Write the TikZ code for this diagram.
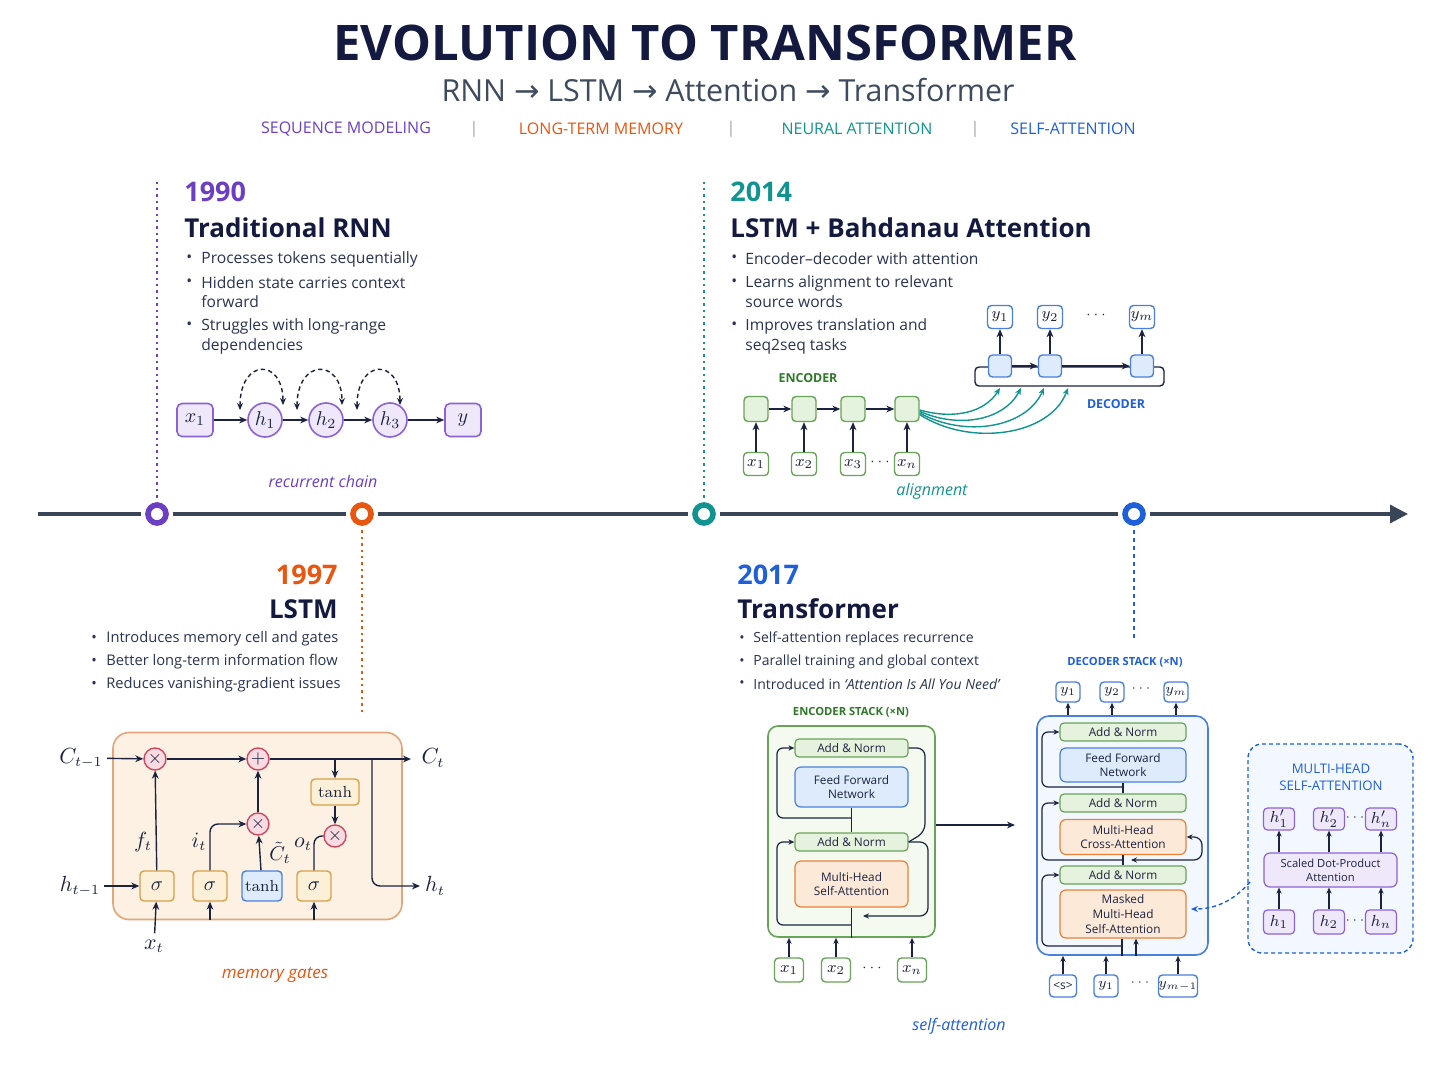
\documentclass[tikz,border=0pt]{standalone}
\usepackage[no-math]{fontspec}
\setmainfont{Open Sans}
\newfontfamily\djv{DejaVu Sans}
\usetikzlibrary{arrows.meta,calc}
\definecolor{cNavy}{HTML}{141A3F}
\definecolor{cTxt}{HTML}{2A3452}
\definecolor{cSub}{HTML}{3E4B5E}
\definecolor{cPur}{HTML}{6B3FC4}
\definecolor{cPurB}{HTML}{8C63D6}
\definecolor{cPurF}{HTML}{EFE8FB}
\definecolor{cOr}{HTML}{E8560F}
\definecolor{cTeal}{HTML}{11948F}
\definecolor{cBlu}{HTML}{1F5FD9}
\definecolor{cBluB}{HTML}{4A80DC}
\definecolor{cBluF}{HTML}{DDEBFC}
\definecolor{cGrn}{HTML}{2E7A28}
\definecolor{cGrnB}{HTML}{6AA35A}
\definecolor{cGrnF}{HTML}{E5F2DD}
\definecolor{cLine}{HTML}{1C2340}
\definecolor{cTl}{HTML}{3A4658}
\definecolor{cCellF}{HTML}{FDF1E4}
\definecolor{cCellB}{HTML}{E3A679}
\definecolor{cGateB}{HTML}{D9A04A}
\definecolor{cGateF}{HTML}{FDF0D8}
\definecolor{cMulB}{HTML}{D0485F}
\definecolor{cMulF}{HTML}{FADBE1}
\definecolor{cAttB}{HTML}{E8823A}
\definecolor{cAttF}{HTML}{FDE9D8}
\definecolor{cSep}{HTML}{9AA3AE}
\definecolor{cEncF}{HTML}{F4FAF0}
\definecolor{cDecF}{HTML}{F3F8FF}
\begin{document}
\begin{tikzpicture}[x=0.5pt,y=-0.5pt,
  every node/.style={inner sep=0pt},
  fsz/.style 2 args={font=\fontsize{#1}{#2}\selectfont},
  hd/.style={font=\fontsize{13}{16}\selectfont\bfseries, text=cNavy},
  yr/.style={font=\fontsize{13.5}{16}\selectfont\bfseries},
  bt/.style={font=\fontsize{#1}{9}\selectfont, text=cTxt, anchor=west},
  bt/.default=7.5,
  tagtxt/.style={font=\fontsize{8}{10}\selectfont},
  lbl/.style={font=\fontsize{8}{10}\selectfont\itshape},
  ml/.style={font=\fontsize{10.5}{12}\selectfont, text=cLine},
  arr/.style={draw=cLine, line width=0.7pt, -{Stealth[length=4pt,width=3.4pt]}},
  plainln/.style={draw=cLine, line width=0.7pt},
  sarr/.style={draw=cLine, line width=0.6pt, -{Stealth[length=3pt,width=2.6pt]}},
  sln/.style={draw=cLine, line width=0.6pt},
  dloop/.style={draw=cLine, line width=0.7pt, dash pattern=on 2.2pt off 1.6pt, {Stealth[length=3.5pt,width=3pt]}-{Stealth[length=3.5pt,width=3pt]}},
  vdot/.style={line width=0.9pt, dash pattern=on 1.2pt off 2pt},
  pbox/.style={draw=cPurB, fill=cPurF, line width=0.8pt, rounded corners=2.5pt, font=\fontsize{10}{11}\selectfont, text=cLine},
  pcirc/.style={circle, draw=cPurB, fill=cPurF, line width=0.8pt, minimum size=17pt, font=\fontsize{10}{11}\selectfont, text=cLine},
  gbox/.style={draw=cGrnB, fill=cGrnF, line width=0.7pt, rounded corners=2pt, font=\fontsize{8}{9}\selectfont, text=cLine},
  bbox/.style={draw=cBluB, fill=cBluF, line width=0.7pt, rounded corners=2pt, font=\fontsize{8}{9}\selectfont, text=cLine},
  wbox/.style={draw=cBluB, fill=white, line width=0.7pt, rounded corners=2pt, font=\fontsize{8}{9}\selectfont, text=cLine},
  wgbox/.style={draw=cGrnB, fill=white, line width=0.7pt, rounded corners=2pt, font=\fontsize{8}{9}\selectfont, text=cLine},
  mul/.style={circle, draw=cMulB, fill=cMulF, line width=0.7pt, minimum size=11pt, font=\fontsize{9}{10}\selectfont, text=cLine},
  gate/.style={draw=cGateB, fill=cGateF, line width=0.7pt, rounded corners=2pt, minimum width=17pt, minimum height=15pt, font=\fontsize{10}{11}\selectfont, text=cLine},
  tbox/.style={draw=cBluB, fill=cBluF, line width=0.7pt, rounded corners=2pt, minimum width=20pt, minimum height=15pt, font=\fontsize{8.5}{10}\selectfont, text=cLine},
  anbox/.style={draw=cGrnB, fill=cGrnF, line width=0.6pt, rounded corners=2pt, minimum width=56.5pt, minimum height=9pt, fsz={5.9}{7}, text=cLine},
  ffbox/.style={draw=cBluB, fill=cBluF, line width=0.6pt, rounded corners=3pt, minimum width=56.5pt, minimum height=20pt, align=center, fsz={5.9}{7.4}, text=cLine},
  attbox/.style={draw=cAttB, fill=cAttF, line width=0.6pt, rounded corners=3pt, minimum width=56.5pt, minimum height=23pt, align=center, fsz={5.9}{7.4}, text=cLine},
  phbox/.style={draw=cPurB, fill=cPurF, line width=0.6pt, rounded corners=2pt, minimum width=15.5pt, minimum height=11pt, font=\fontsize{8}{9}\selectfont, text=cLine},
]
\useasboundingbox[fill=white] (0,0) rectangle (1448,1086);

% ---------- header ----------
\node[font=\fontsize{24.5}{28}\selectfont\bfseries, text=cNavy] (title) at (705,43) {EVOLUTION TO TRANSFORMER};
\node[fsz={15.2}{18}, text=cSub] (subt) at (728,90) {RNN {\djv →} LSTM {\djv →} Attention {\djv →} Transformer};
\node[tagtxt, text=cPur] (tg1) at (346,129) {SEQUENCE MODELING};
\node[tagtxt, text=cSep] (sp1) at (474,129) {|};
\node[tagtxt, text=cOr] (tg2) at (601,129) {LONG-TERM MEMORY};
\node[tagtxt, text=cSep] (sp2) at (731,129) {|};
\node[tagtxt, text=cTeal] (tg3) at (857,129) {NEURAL ATTENTION};
\node[tagtxt, text=cSep] (sp3) at (975,129) {|};
\node[tagtxt, text=cBlu] (tg4) at (1073,129) {SELF-ATTENTION};

% ---------- timeline ----------
\coordinate (tlS) at (38,514);
\coordinate (tlE) at (1408,514);
\draw[cTl, line width=1.6pt, -{Triangle[length=9pt,width=9pt]}] (tlS) -- (tlE);
\foreach \n/\x/\c in {m90/157/cPur, m97/362/cOr, m14/704/cTeal, m17/1134/cBlu}{
  \node[circle, fill=white, minimum size=16pt] (\n h) at (\x,514) {};
  \node[circle, draw=\c, line width=2.8pt, fill=white, minimum size=9pt] (\n) at (\x,514) {};
}
\coordinate (d90) at (157,180);
\coordinate (d97) at (362,715);
\coordinate (d14) at (704,180);
\coordinate (d17) at (1134,640);
\draw[vdot, cPur] (m90h.north) -- (d90);
\draw[vdot, cOr] (m97h.south) -- (d97);
\draw[vdot, cTeal] (m14h.north) -- (d14);
\draw[vdot, cBlu, dash pattern=on 2pt off 2pt] (m17h.south) -- (d17);

% ---------- 1990 ----------
\node[yr, text=cPur, anchor=west] (y90) at (184,192) {1990};
\node[hd, anchor=west] (t90) at (184,228) {Traditional RNN};
\node[bt=7.8] (b90a) at (186,259) {•}; \node[bt=7.8] (b90at) at (201,259) {Processes tokens sequentially};
\node[bt=7.8] (b90b) at (186,283) {•}; \node[bt=7.8] (b90bt) at (201,283) {Hidden state carries context};
\node[bt=7.8] (b90bc) at (201,302) {forward};
\node[bt=7.8] (b90c) at (186,326) {•}; \node[bt=7.8] (b90ct) at (201,326) {Struggles with long-range};
\node[bt=7.8] (b90cc) at (201,346) {dependencies};

\node[pbox, minimum width=18pt, minimum height=16.5pt] (rx1) at (195,420) {$x_1$};
\node[pcirc] (rh1) at (265,420) {$h_1$};
\node[pcirc] (rh2) at (326,420) {$h_2$};
\node[pcirc] (rh3) at (390,420) {$h_3$};
\node[pbox, minimum width=18pt, minimum height=16.5pt] (ry) at (463,420) {$y$};
\draw[arr] (rx1) -- (rh1);
\draw[arr] (rh1) -- (rh2);
\draw[arr] (rh2) -- (rh3);
\draw[arr] (rh3) -- (ry);
\draw[dloop] ($(rh1)+(-25,-10)$) .. controls ($(rh1)+(-25,-62)$) and ($(rh1)+(18,-62)$) .. ($(rh1)+(18,-15)$);
\draw[dloop] ($(rh2)+(-29,-10)$) .. controls ($(rh2)+(-29,-62)$) and ($(rh2)+(16,-62)$) .. ($(rh2)+(16,-15)$);
\draw[dloop] ($(rh3)+(-33,-10)$) .. controls ($(rh3)+(-33,-62)$) and ($(rh3)+(10,-62)$) .. ($(rh3)+(10,-15)$);
\node[lbl, text=cPur] (l90) at (323,481) {recurrent chain};

% ---------- 2014 ----------
\node[yr, text=cTeal, anchor=west] (y14) at (730,192) {2014};
\node[hd, anchor=west] (t14) at (730,228) {LSTM + Bahdanau Attention};
\node[bt=7.8] (b14a) at (731,259) {•}; \node[bt=7.8] (b14at) at (745,259) {Encoder–decoder with attention};
\node[bt=7.8] (b14b) at (731,283) {•}; \node[bt=7.8] (b14bt) at (745,283) {Learns alignment to relevant};
\node[bt=7.8] (b14bc) at (745,302) {source words};
\node[bt=7.8] (b14c) at (731,326) {•}; \node[bt=7.8] (b14ct) at (745,326) {Improves translation and};
\node[bt=7.8] (b14cc) at (745,346) {seq2seq tasks};

\node[font=\fontsize{6.2}{8}\selectfont\bfseries, text=cGrn] (encl) at (808,378) {ENCODER};
\foreach \i/\x/\t in {1/756/x_1, 2/804/x_2, 3/853/x_3, 4/907/x_n}{
  \node[gbox, minimum width=12pt, minimum height=12.5pt] (e\i) at (\x,409) {};
  \node[wgbox, minimum width=12.5pt, minimum height=11.5pt] (ex\i) at (\x,464) {$\t$};
  \draw[arr] (ex\i) -- (e\i);
}
\node[fsz={7}{8}, text=cLine] (edots) at (880,462) {$\cdots$};
\draw[arr] (e1) -- (e2);
\draw[arr] (e2) -- (e3);
\draw[arr] (e3) -- (e4);

\coordinate (dbl) at (975,367);
\coordinate (dbr) at (1164,386);
\draw[plainln, rounded corners=2pt] (dbl) rectangle (dbr);
\foreach \i/\x/\t in {1/1000/y_1, 2/1050/y_2, 3/1142/y_m}{
  \node[bbox, minimum width=11.5pt, minimum height=11pt] (d\i) at (\x,366) {};
  \node[wbox, minimum width=12.5pt, minimum height=11.5pt] (dy\i) at (\x,317) {$\t$};
  \draw[arr] (d\i) -- (dy\i);
}
\node[fsz={7}{8}, text=cLine] (ddots) at (1096,315) {$\cdots$};
\draw[arr] (d1) -- (d2);
\draw[arr] (d2) -- (d3);
\node[font=\fontsize{6.2}{8}\selectfont\bfseries, text=cBlu] (decl) at (1116,404) {DECODER};

\coordinate (a1) at (1000,388);
\coordinate (a2) at (1021,388);
\coordinate (a3) at (1044,388);
\coordinate (a4) at (1068,388);
\begin{scope}[draw=cTeal, line width=0.7pt, -{Stealth[length=3.5pt,width=3pt]}]
\draw[cTeal] ([yshift=-0.5pt]e4.east) .. controls (955,420) and (985,412) .. (a1);
\draw[cTeal] ([yshift=-1.2pt]e4.east) .. controls (960,429) and (1004,420) .. (a2);
\draw[cTeal] ([yshift=-2pt]e4.east) .. controls (965,438) and (1026,428) .. (a3);
\draw[cTeal] ([yshift=-2.8pt]e4.east) .. controls (970,447) and (1050,436) .. (a4);
\end{scope}
\node[lbl, text=cTeal] (l14) at (932,491) {alignment};

% ---------- 1997 ----------
\node[yr, text=cOr, anchor=east] (y97) at (338,575) {1997};
\node[hd, anchor=east] (t97) at (338,609) {LSTM};
\node[bt=7.35] (b97a) at (91,639) {•}; \node[bt=7.35] (b97at) at (106,639) {Introduces memory cell and gates};
\node[bt=7.35] (b97b) at (91,662) {•}; \node[bt=7.35] (b97bt) at (106,662) {Better long-term information flow};
\node[bt=7.35] (b97c) at (91,685) {•}; \node[bt=7.35] (b97ct) at (106,685) {Reduces vanishing-gradient issues};

\node[draw=cCellB, fill=cCellF, line width=0.8pt, rounded corners=8pt, minimum width=144.5pt, minimum height=93.5pt] (cell) at (257.5,826) {};
\node[mul] (cm1) at (155,759) {$\times$};
\node[mul] (cpl) at (258,759) {$+$};
\node[mul] (cm2) at (258,824) {$\times$};
\node[mul] (cm3) at (335,836) {$\times$};
\node[gate, minimum width=24pt, minimum height=13pt, font=\fontsize{8.5}{10}\selectfont] (ctT) at (335,792) {$\tanh$};
\node[gate] (cs1) at (157,886) {$\sigma$};
\node[gate] (cs2) at (210,886) {$\sigma$};
\node[tbox] (ctb) at (262,886) {$\tanh$};
\node[gate] (cs3) at (314,886) {$\sigma$};
\node[ml] (lCm) at (81,758) {$C_{t-1}$};
\node[ml] (lC) at (433,758) {$C_t$};
\node[ml] (lhm) at (80,886) {$h_{t-1}$};
\node[ml] (lh) at (435,886) {$h_t$};
\node[ml] (lx) at (154,946) {$x_t$};
\node[ml] (lf) at (143,842) {$f_t$};
\node[ml] (li) at (199,842) {$i_t$};
\node[ml, font=\fontsize{10}{11}\selectfont] (lct) at (280,853) {$\tilde{C}_t$};
\node[ml] (lo) at (303,844) {$o_t$};
\coordinate (cOut) at (411,759);
\coordinate (cBr) at (372,759);
\coordinate (hOut) at (420,886);
\draw[arr, shorten <=2pt] (lCm) -- (cm1);
\draw[arr] (cm1) -- (cpl);
\draw[arr] (cpl) -- (cOut);
\draw[arr] (ctT.north |- cpl.east) -- (ctT);
\draw[arr] (ctT) -- (cm3);
\draw[arr, rounded corners=4pt] (cBr) -- (cBr |- hOut) -- (hOut);
\draw[arr, shorten <=2pt] (lhm) -- (cs1);
\draw[arr, shorten <=3pt] (lx) -- (cs1);
\draw[arr] (cs1) -- (cm1);
\draw[arr, rounded corners=4pt] (cs2.north) |- (cm2.west);
\draw[arr] (ctb) -- (cm2);
\draw[arr] (cm2) -- (cpl);
\draw[plainln, rounded corners=4pt] (cs3.north) |- (cm3.west);
\draw[arr] (cs2.south |- cell.south) -- (cs2.south);
\draw[arr] (cs3.south |- cell.south) -- (cs3.south);
\node[lbl, text=cOr, font=\fontsize{8.5}{10}\selectfont\itshape] (l97) at (275,975) {memory gates};

% ---------- 2017 ----------
\node[yr, text=cBlu, anchor=west] (y17) at (737,575) {2017};
\node[hd, anchor=west] (t17) at (737,609) {Transformer};
\node[bt=7.0] (b17a) at (739,639) {•}; \node[bt=7.0] (b17at) at (753,639) {Self-attention replaces recurrence};
\node[bt=7.0] (b17b) at (739,662) {•}; \node[bt=7.0] (b17bt) at (753,662) {Parallel training and global context};
\node[bt=7.0] (b17c) at (739,684) {•}; \node[bt=7.0] (b17ct) at (753,684) {Introduced in \textit{‘Attention Is All You Need’}};

% encoder stack
\node[font=\fontsize{5.6}{7}\selectfont\bfseries, text=cGrn] (encsl) at (851,712) {ENCODER STACK (×N)};
\node[draw=cGrnB, fill=cEncF, line width=0.8pt, rounded corners=5pt, minimum width=83.5pt, minimum height=105.5pt] (encS) at (851.5,831.5) {};
\node[anbox] (eAN1) at (851.5,748) {Add \& Norm};
\node[ffbox] (eFF) at (851.5,787) {Feed Forward\\Network};
\node[anbox] (eAN2) at (851.5,842) {Add \& Norm};
\node[attbox] (eMH) at (851.5,884) {Multi-Head\\Self-Attention};
\coordinate (eJ1) at (851.5,818);
\coordinate (eJ2) at (851.5,925);
\coordinate (eL) at (777,0);
\coordinate (eR1) at (925,0);
\coordinate (eR2) at (928,0);
\coordinate (eBk) at (863,916);
\draw[sln] (eFF) -- (eAN2);
\draw[sln] (eMH.south) -- (eMH.south |- encS.south);
\draw[sarr, rounded corners=3pt] (eJ1) -- (eJ1 -| eL) -- (eL |- eAN1.west) -- (eAN1.west);
\draw[sarr, rounded corners=3pt] (eJ2) -- (eJ2 -| eL) -- (eL |- eAN2.west) -- (eAN2.west);
\draw[sln, rounded corners=4pt] (eAN1.east) -- (eAN1.east -| eR1) -- ($(eAN2.east -| eR1)+(0,-10)$) -- (eAN2.east);
\draw[sarr, rounded corners=4pt] (eAN2.east) -- (eAN2.east -| eR2) -- (eBk -| eR2) -- (eBk);
\coordinate (eOut) at (1015,825);
\draw[arr] (encS.east |- eOut) -- (eOut);
\foreach \i/\x/\t in {1/789/x_1, 2/836/x_2, 3/912/x_n}{
  \node[wgbox, minimum width=14.5pt, minimum height=12pt] (tx\i) at (\x,970) {$\t$};
  \draw[sarr] (tx\i.north) -- (tx\i.north |- encS.south);
}
\node[fsz={7}{8}, text=cLine] (txd) at (872,968) {$\cdots$};

% decoder stack
\node[font=\fontsize{5.6}{7}\selectfont\bfseries, text=cBlu] (decsl) at (1125,662) {DECODER STACK (×N)};
\node[draw=cBluB, fill=cDecF, line width=0.8pt, rounded corners=6pt, minimum width=85.5pt, minimum height=119.5pt] (decS) at (1122.5,835.5) {};
\node[anbox, minimum width=63pt] (dAN1) at (1123,732) {Add \& Norm};
\node[ffbox, minimum width=63pt, minimum height=17pt] (dFF) at (1123,765) {Feed Forward\\Network};
\node[anbox, minimum width=63pt] (dAN2) at (1123,803) {Add \& Norm};
\node[attbox, minimum width=63pt, minimum height=17.5pt] (dCA) at (1123,837) {Multi-Head\\Cross-Attention};
\node[anbox, minimum width=63pt] (dAN3) at (1123,875) {Add \& Norm};
\node[attbox, minimum width=63pt, minimum height=24pt] (dMM) at (1123,914) {Masked\\Multi-Head\\Self-Attention};
\coordinate (dJ1) at (1122,787);
\coordinate (dJ2) at (1122,860);
\coordinate (dJ3) at (1122,946);
\coordinate (dL) at (1042,0);
\coordinate (dR) at (1202,0);
\coordinate (dBk) at (1131,860);
\draw[sln] (dFF) -- (dAN2);
\draw[sln] (dCA) -- (dAN3);
\draw[sln] (dMM.south -| dJ3) -- (dJ3 |- decS.south);
\draw[sarr, rounded corners=3pt] (dJ1) -- (dJ1 -| dL) -- (dL |- dAN1.west) -- (dAN1.west);
\draw[sarr, rounded corners=3pt] (dJ2) -- (dJ2 -| dL) -- (dL |- dAN2.west) -- (dAN2.west);
\draw[sarr, rounded corners=3pt] (dJ3) -- (dJ3 -| dL) -- (dL |- dAN3.west) -- (dAN3.west);
\draw[sarr] ([xshift=6.5pt]dMM.south |- decS.south) -- ([xshift=6.5pt]dMM.south);
\draw[draw=cLine, line width=0.6pt, {Stealth[length=3pt,width=2.6pt]}-{Stealth[length=3pt,width=2.6pt]}, rounded corners=4pt] (dBk) -- (dBk -| dR) -- (dR |- dCA.east) -- (dCA.east);
\foreach \i/\x/\t in {1/1068/y_1, 2/1112/y_2, 3/1176/y_m}{
  \node[wbox, minimum width=12pt, minimum height=10pt, font=\fontsize{7}{8}\selectfont] (oy\i) at (\x,692) {$\t$};
  \draw[sarr] (oy\i.south |- decS.north) -- (oy\i.south);
}
\node[fsz={6}{8}, text=cLine] (oyd) at (1141,689) {$\cdots$};
\node[wbox, minimum width=13.5pt, minimum height=11pt, fsz={6}{8}] (iy0) at (1063,986) {<s>};
\node[wbox, minimum width=12pt, minimum height=11pt, font=\fontsize{7}{8}\selectfont] (iy1) at (1106,986) {$y_1$};
\node[wbox, minimum width=16.5pt, minimum height=11pt, font=\fontsize{7}{8}\selectfont] (iy2) at (1178,986) {$y_{m-1}$};
\node[fsz={6}{8}, text=cLine] (iyd) at (1140,983) {$\cdots$};
\foreach \n in {iy0,iy1,iy2}{
  \draw[sarr] (\n.north) -- (\n.north |- decS.south);
}

% multi-head panel
\node[draw=cBlu, fill=cDecF, line width=0.7pt, dash pattern=on 2pt off 1.5pt, rounded corners=7pt, minimum width=82.5pt, minimum height=104.5pt] (mh) at (1330.5,848.5) {};
\node[font=\fontsize{6.6}{8.6}\selectfont, text=cBlu, align=center] (mhl) at (1331,777) {MULTI-HEAD\\SELF-ATTENTION};
\node[draw=cPurB, fill=cPurF, line width=0.6pt, rounded corners=3pt, minimum width=66.5pt, minimum height=17pt, align=center, fsz={5.6}{7.2}, text=cLine] (sdpa) at (1330.5,870) {Scaled Dot-Product\\Attention};
\foreach \i/\x/\t in {1/1279/1, 2/1329/2, 3/1381/n}{
  \node[phbox] (hp\i) at (\x,819) {$h'_{\t}$};
  \node[phbox, minimum height=12pt] (hh\i) at (\x,922) {$h_{\t}$};
  \draw[sarr] (hh\i.north) -- (hh\i.north |- sdpa.south);
  \draw[sarr] (hp\i.south |- sdpa.north) -- (hp\i.south);
}
\node[fsz={6}{8}, text=cLine] (hpd) at (1355,818) {$\cdots$};
\node[fsz={6}{8}, text=cLine] (hhd) at (1355,921) {$\cdots$};
\coordinate (mhS) at (1250,882);
\coordinate (mhE) at (1191,909);
\draw[draw=cBlu, line width=0.7pt, dash pattern=on 2pt off 1.5pt, -{Stealth[length=3.5pt,width=3pt]}] (mhS) .. controls (1230,905) and (1210,909) .. (mhE);
\node[lbl, text=cBlu] (l17) at (959,1026) {self-attention};
\end{tikzpicture}
\end{document}
